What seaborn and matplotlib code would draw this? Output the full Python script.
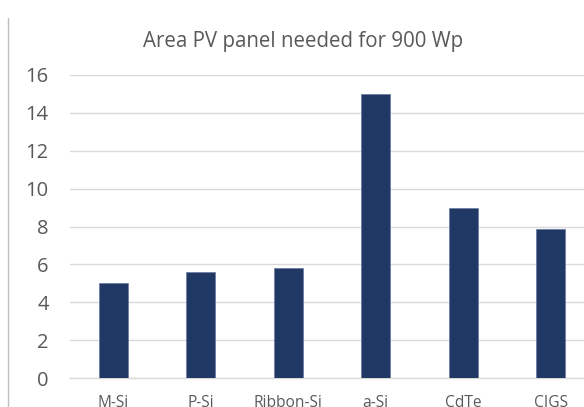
import matplotlib
matplotlib.use("Agg")
import matplotlib.pyplot as plt
from matplotlib.lines import Line2D
import seaborn as sns
import pandas as pd

# Panel technologies and the area (m²) each needs for 900 Wp
technologies = ["M-Si", "P-Si", "Ribbon-Si", "a-Si", "CdTe", "CIGS"]
area_needed = [5.0, 5.6, 5.8, 15.0, 9.0, 7.87]
y_ticks = [0, 2, 4, 6, 8, 10, 12, 14, 16]
title_text = "Area PV panel needed for 900 Wp"

df = pd.DataFrame({"technology": technologies, "area": area_needed})

sns.set_theme(style="white")
plt.rcParams["font.family"] = ["Open Sans", "DejaVu Sans"]

W, H = 584, 407
fig = plt.figure(figsize=(W / 100, H / 100), dpi=100)

# axes placed in pixel terms; right edge runs past the canvas
left_px, right_px = 69.5, 594.5
top_px, bottom_px = 74.7, 378.3
ax = fig.add_axes([left_px / W, 1 - bottom_px / H,
                   (right_px - left_px) / W, (bottom_px - top_px) / H])

bar_color = "#203864"
sns.barplot(data=df, x="technology", y="area", color=bar_color,
            width=0.33, saturation=1, ax=ax, zorder=3,
            edgecolor="#6f7fa3", linewidth=0.6)

ax.set_xlim(-0.5, len(technologies) - 0.5)
ax.set_ylim(0, 16)
ax.set_yticks(y_ticks)
ax.set_yticklabels([str(t) for t in y_ticks])
ax.yaxis.grid(True, color="#d9d9d9", linewidth=1.0, zorder=0)
ax.set_axisbelow(True)

for side in ["left", "right", "top"]:
    ax.spines[side].set_visible(False)
ax.spines["bottom"].set_color("#d9d9d9")
ax.spines["bottom"].set_linewidth(1.0)

ax.set_xlabel("")
ax.set_ylabel("")
ax.tick_params(axis="y", length=0, pad=15, labelsize=14.5, labelcolor="#595959")
ax.tick_params(axis="x", length=0, pad=12.2, labelsize=11.2, labelcolor="#595959")

fig.text(303 / W, 1 - 42 / H, title_text, ha="center", va="center",
         fontsize=14.8, color="#595959")

# chart frame edge on the left
fig.add_artist(Line2D([8.3 / W, 8.3 / W], [0, 1 - 18.3 / H],
                      transform=fig.transFigure, color="#bfbfbf", linewidth=1.0))

fig.savefig("out.png", dpi=100)
